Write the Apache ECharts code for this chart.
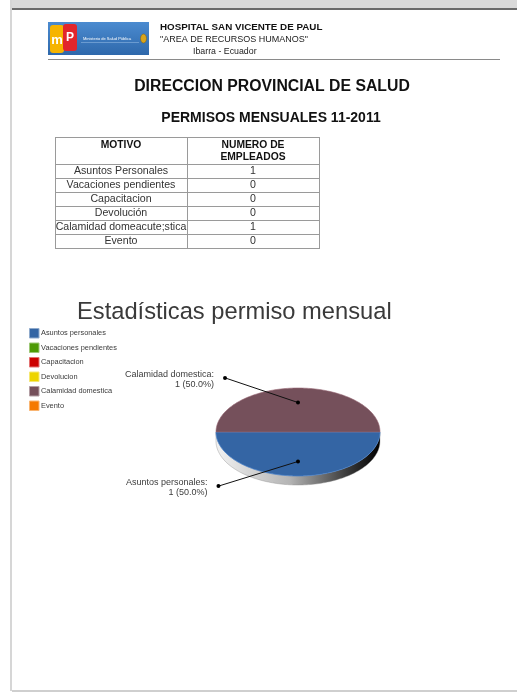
<!DOCTYPE html>
<html>
<head>
<meta charset="utf-8">
<script src="https://cdn.jsdelivr.net/npm/echarts@6/dist/echarts.min.js"></script>
<style>
  html, body { margin: 0; padding: 0; background: #ffffff; }
  #report { width: 517px; height: 693px; }
</style>
</head>
<body>
<div id="report"></div>
<script>
// ---- Report data -------------------------------------------------------
const tableHeaders = ['MOTIVO', 'NUMERO DE\nEMPLEADOS'];
const motivos = ['Asuntos Personales', 'Vacaciones pendientes', 'Capacitacion', 'Devolución', 'Calamidad domeacute;stica', 'Evento'];
const empleados = [1, 0, 0, 0, 1, 0];

const chartTitle = 'Estadísticas permiso mensual';
const chartCategories = ['Asuntos personales', 'Vacaciones pendientes', 'Capacitacion', 'Devolucion', 'Calamidad domestica', 'Evento'];
const chartValues = [1, 0, 0, 0, 1, 0];

// ---- Styles ------------------------------------------------------------
const sliceColors = ['#3465a4', '#4e9a06', '#cc0000', '#edd400', '#75505b', '#f57900'];
const FONT = '"Liberation Sans", Arial, sans-serif';
const TXT = '#333333';

const chart = echarts.init(document.getElementById('report'), null, { renderer: 'canvas' });

function txt(x, y, text, size, opts) {
  opts = opts || {};
  return {
    type: 'text', x: x, y: y, silent: true, z: 10,
    style: {
      text: text,
      font: (opts.bold ? 'bold ' : '') + size + 'px ' + FONT,
      fill: opts.fill || TXT,
      align: opts.align || 'left', textAlign: opts.align || 'left',
      verticalAlign: 'middle', textVerticalAlign: 'middle',
      lineHeight: opts.lineHeight || size + 2
    }
  };
}

// ---- Page frame and header ---------------------------------------------
const elements = [
  { type: 'rect', shape: { x: 10, y: 0, width: 507, height: 8 }, style: { fill: '#dadada' } },
  { type: 'rect', shape: { x: 12, y: 8, width: 505, height: 2 }, style: { fill: '#6b6b6b' } },
  { type: 'rect', shape: { x: 10, y: 0, width: 2, height: 691 }, style: { fill: '#d6d6d6' } },
  { type: 'rect', shape: { x: 12, y: 690, width: 505, height: 2 }, style: { fill: '#cfcfcf' } },

  // ministry logo
  { type: 'rect', shape: { x: 48, y: 22, width: 101, height: 33 },
    style: { fill: { type: 'linear', x: 0, y: 0, x2: 0, y2: 1,
      colorStops: [{ offset: 0, color: '#4b8bd0' }, { offset: 1, color: '#2e68ab' }] } } },
  { type: 'rect', shape: { x: 50, y: 25, width: 14, height: 28, r: 3 }, style: { fill: '#f6b400' } },
  { type: 'rect', shape: { x: 63, y: 24, width: 14, height: 27, r: 3 }, style: { fill: '#e2262c' } },
  txt(57, 40, 'm', 13, { bold: true, fill: '#ffffff', align: 'center' }),
  txt(70, 38, 'P', 12, { bold: true, fill: '#ffffff', align: 'center' }),
  { type: 'rect', shape: { x: 81, y: 42, width: 58, height: 0.6 }, style: { fill: '#9cc0e8' } },
  txt(83, 38.5, 'Ministerio de Salud Pública', 4, { fill: '#ffffff' }),
  { type: 'ellipse', shape: { cx: 143.5, cy: 38.5, rx: 3, ry: 4.5 }, style: { fill: '#d9a51c', stroke: '#7a5a10', lineWidth: 0.5 } },

  txt(160, 27.5, 'HOSPITAL SAN VICENTE DE PAUL', 9.8, { bold: true, fill: '#111111' }),
  txt(160, 40, '"AREA DE RECURSOS HUMANOS"', 9, { fill: '#222222' }),
  txt(193, 52, 'Ibarra - Ecuador', 8.8, { fill: '#222222' }),
  { type: 'rect', shape: { x: 48, y: 59, width: 452, height: 1 }, style: { fill: '#8a8a8a' } },

  txt(272, 87, 'DIRECCION PROVINCIAL DE SALUD', 15.8, { bold: true, fill: '#111111', align: 'center' }),
  txt(271, 118, 'PERMISOS MENSUALES 11-2011', 14, { bold: true, fill: '#111111', align: 'center' })
];

// ---- Table of permits --------------------------------------------------
const tbl = { x0: 55, x1: 187, x2: 319, top: 137, headH: 27, rowH: 14 };
const tblBottom = tbl.top + tbl.headH + tbl.rowH * motivos.length;
const lineStyle = { stroke: '#9a9a9a', lineWidth: 1 };
[tbl.x0, tbl.x1, tbl.x2].forEach(function (x) {
  elements.push({ type: 'line', shape: { x1: x + 0.5, y1: tbl.top, x2: x + 0.5, y2: tblBottom }, style: lineStyle });
});
for (let r = 0; r <= motivos.length + 1; r++) {
  const y = r === 0 ? tbl.top : tbl.top + tbl.headH + (r - 1) * tbl.rowH;
  elements.push({ type: 'line', shape: { x1: tbl.x0, y1: y + 0.5, x2: tbl.x2 + 1, y2: y + 0.5 }, style: lineStyle });
}
elements.push(txt((tbl.x0 + tbl.x1) / 2, tbl.top + 8.5, tableHeaders[0], 10.3, { bold: true, fill: '#111111', align: 'center' }));
elements.push(txt((tbl.x1 + tbl.x2) / 2, tbl.top + 14.5, tableHeaders[1], 10.3, { bold: true, fill: '#111111', align: 'center', lineHeight: 11.8 }));
motivos.forEach(function (m, i) {
  const yc = tbl.top + tbl.headH + i * tbl.rowH + tbl.rowH / 2 + 0.5;
  elements.push(txt((tbl.x0 + tbl.x1) / 2, yc, m, 10.6, { align: 'center' }));
  elements.push(txt((tbl.x1 + tbl.x2) / 2, yc, String(empleados[i]), 10.6, { align: 'center' }));
});

// ---- Chart title and legend --------------------------------------------
elements.push(txt(77, 312, chartTitle, 23.7, { fill: '#3a3a3a' }));
chartCategories.forEach(function (name, i) {
  const yc = 333 + i * 14.5;
  elements.push({ type: 'rect', shape: { x: 29.5, y: yc - 4.5, width: 9.5, height: 9.5 },
    style: { fill: sliceColors[i], stroke: echarts.color.lift(sliceColors[i], 0.45), lineWidth: 1 } });
  elements.push(txt(41, yc, name, 7.4, { fill: '#3a3a3a' }));
});

// ---- 3D-style elliptical pie -------------------------------------------
const total = chartValues.reduce(function (a, b) { return a + b; }, 0);
const starts = [];
chartValues.reduce(function (acc, v) { starts.push(acc); return acc + v; }, 0);
const PIE = { cx: 298, cy: 432, rx: 82, ry: 44, depth: 9 };

function arcPoints(a0, a1, dy) {
  const n = Math.max(2, Math.ceil((a1 - a0) / (Math.PI / 120)));
  const pts = [];
  for (let k = 0; k <= n; k++) {
    const a = a0 + (a1 - a0) * k / n;
    pts.push([PIE.cx + PIE.rx * Math.cos(a), PIE.cy + dy + PIE.ry * Math.sin(a)]);
  }
  return pts;
}

function renderSlice(params, api) {
  const i = params.dataIndex;
  const v = api.value(0);
  if (!v) return null;
  const a0 = starts[i] / total * Math.PI * 2;
  const a1 = (starts[i] + v) / total * Math.PI * 2;
  const children = [];

  // side wall on the front half
  const w0 = Math.max(a0, 0), w1 = Math.min(a1, Math.PI);
  if (w1 > w0) {
    const wall = arcPoints(w0, w1, 0).concat(arcPoints(w0, w1, PIE.depth).reverse());
    children.push({ type: 'polygon', z2: 1, shape: { points: wall },
      style: { fill: { type: 'linear', global: true, x: PIE.cx - PIE.rx, y: 0, x2: PIE.cx + PIE.rx, y2: 0,
        colorStops: [{ offset: 0, color: '#f2f2f2' }, { offset: 0.45, color: '#b4b4b4' },
                     { offset: 0.8, color: '#3a3a3a' }, { offset: 1, color: '#000000' }] },
        stroke: '#8a8a8a', lineWidth: 0.4 } });
  }

  // top face
  children.push({ type: 'polygon', z2: 2, shape: { points: [[PIE.cx, PIE.cy]].concat(arcPoints(a0, a1, 0)) },
    style: { fill: sliceColors[i], stroke: echarts.color.lift(sliceColors[i], -0.3), lineWidth: 0.6 } });

  // leader line and label
  const mid = (a0 + a1) / 2;
  const s = Math.sin(mid);
  const inner = [PIE.cx + 0.67 * PIE.rx * Math.cos(mid), PIE.cy + 0.67 * PIE.ry * s];
  const outer = [PIE.cx - PIE.rx * (0.93 + 0.04 * s), PIE.cy + s * 1.23 * PIE.ry];
  children.push({ type: 'line', z2: 3, shape: { x1: inner[0], y1: inner[1], x2: outer[0], y2: outer[1] },
    style: { stroke: '#111111', lineWidth: 1 } });
  [inner, outer].forEach(function (p) {
    children.push({ type: 'circle', z2: 4, shape: { cx: p[0], cy: p[1], r: 2 }, style: { fill: '#000000' } });
  });
  const pct = (v / total * 100).toFixed(1);
  children.push({ type: 'text', z2: 4, x: outer[0] - 11, y: outer[1] + 1.5,
    style: { text: chartCategories[i] + ':\n' + v + ' (' + pct + '%)', font: '9px ' + FONT, fill: '#3c3c3c',
      align: 'right', textAlign: 'right', verticalAlign: 'middle', textVerticalAlign: 'middle', lineHeight: 10.5 } });

  return { type: 'group', children: children };
}

chart.setOption({
  backgroundColor: '#ffffff',
  animation: false,
  graphic: { elements: elements },
  series: [{
    type: 'custom',
    name: chartTitle,
    coordinateSystem: 'none',
    renderItem: renderSlice,
    data: chartValues.map(function (v, i) { return { name: chartCategories[i], value: [v] }; }),
    silent: true
  }]
});
</script>
</body>
</html>
